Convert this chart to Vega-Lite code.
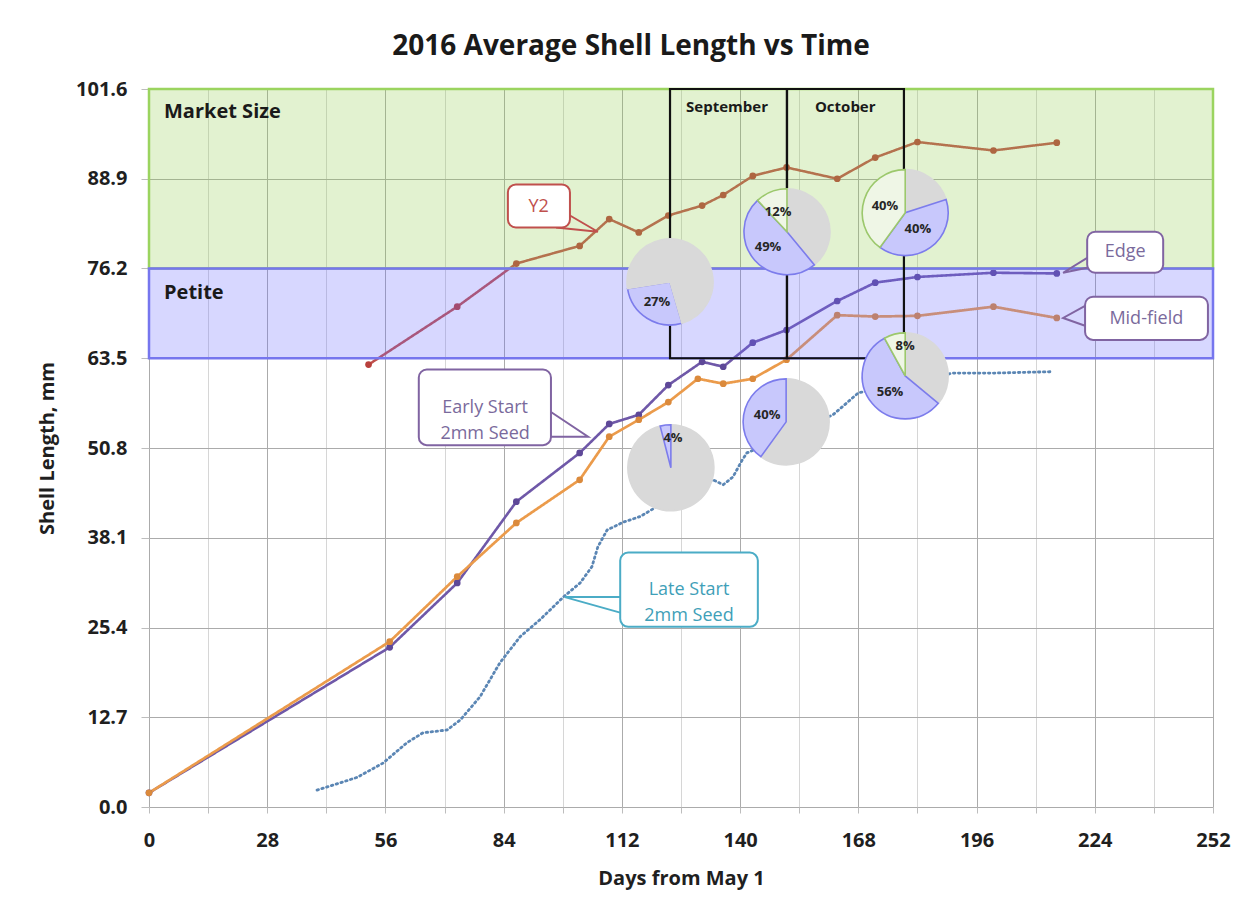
{
  "$schema": "https://vega.github.io/schema/vega-lite/v6.json",
  "width": 1064,
  "height": 718,
  "autosize": {"type": "none"},
  "padding": {"left": 149, "top": 89, "right": 30, "bottom": 102},
  "background": "white",
  "config": {"font": "Open Sans", "view": {"stroke": null}},
  "title": {"text": "2016 Average Shell Length vs Time", "fontSize": 28, "fontWeight": "bold", "color": "#1a1a1a", "anchor": "middle", "dx": -50, "offset": 18, "font": "Open Sans"},
  "datasets": {
    "series": [
      {"s": "Y2", "day": 52, "mm": 62.6}, {"s": "Y2", "day": 73, "mm": 70.8}, {"s": "Y2", "day": 87, "mm": 76.9}, {"s": "Y2", "day": 102, "mm": 79.4}, {"s": "Y2", "day": 109, "mm": 83.2}, {"s": "Y2", "day": 116, "mm": 81.3}, {"s": "Y2", "day": 123, "mm": 83.7}, {"s": "Y2", "day": 131, "mm": 85.1}, {"s": "Y2", "day": 136, "mm": 86.6}, {"s": "Y2", "day": 143, "mm": 89.3}, {"s": "Y2", "day": 151, "mm": 90.5}, {"s": "Y2", "day": 163, "mm": 88.9}, {"s": "Y2", "day": 172, "mm": 91.9}, {"s": "Y2", "day": 182, "mm": 94.1}, {"s": "Y2", "day": 200, "mm": 92.9}, {"s": "Y2", "day": 215, "mm": 94.0},
      {"s": "Edge", "day": 0, "mm": 2.0}, {"s": "Edge", "day": 57, "mm": 22.6}, {"s": "Edge", "day": 73, "mm": 31.7}, {"s": "Edge", "day": 87, "mm": 43.2}, {"s": "Edge", "day": 102, "mm": 50.1}, {"s": "Edge", "day": 109, "mm": 54.2}, {"s": "Edge", "day": 116, "mm": 55.5}, {"s": "Edge", "day": 123, "mm": 59.7}, {"s": "Edge", "day": 131, "mm": 63.0}, {"s": "Edge", "day": 136, "mm": 62.3}, {"s": "Edge", "day": 143, "mm": 65.7}, {"s": "Edge", "day": 151, "mm": 67.5}, {"s": "Edge", "day": 163, "mm": 71.6}, {"s": "Edge", "day": 172, "mm": 74.2}, {"s": "Edge", "day": 182, "mm": 75.0}, {"s": "Edge", "day": 200, "mm": 75.6}, {"s": "Edge", "day": 215, "mm": 75.5},
      {"s": "Mid-field", "day": 0, "mm": 2.0}, {"s": "Mid-field", "day": 57, "mm": 23.4}, {"s": "Mid-field", "day": 73, "mm": 32.6}, {"s": "Mid-field", "day": 87, "mm": 40.2}, {"s": "Mid-field", "day": 102, "mm": 46.3}, {"s": "Mid-field", "day": 109, "mm": 52.4}, {"s": "Mid-field", "day": 116, "mm": 54.8}, {"s": "Mid-field", "day": 123, "mm": 57.3}, {"s": "Mid-field", "day": 130, "mm": 60.6}, {"s": "Mid-field", "day": 136, "mm": 59.9}, {"s": "Mid-field", "day": 143, "mm": 60.6}, {"s": "Mid-field", "day": 151, "mm": 63.3}, {"s": "Mid-field", "day": 163, "mm": 69.6}, {"s": "Mid-field", "day": 172, "mm": 69.4}, {"s": "Mid-field", "day": 182, "mm": 69.5}, {"s": "Mid-field", "day": 200, "mm": 70.8}, {"s": "Mid-field", "day": 215, "mm": 69.2},
      {"s": "Late", "day": 39.8, "mm": 2.4}, {"s": "Late", "day": 43.6, "mm": 3.1}, {"s": "Late", "day": 49.3, "mm": 4.2}, {"s": "Late", "day": 55.4, "mm": 6.2}, {"s": "Late", "day": 61.1, "mm": 9.1}, {"s": "Late", "day": 64.9, "mm": 10.5}, {"s": "Late", "day": 70.6, "mm": 10.9}, {"s": "Late", "day": 73.7, "mm": 12.3}, {"s": "Late", "day": 78.4, "mm": 15.6}, {"s": "Late", "day": 83.1, "mm": 20.4}, {"s": "Late", "day": 87.9, "mm": 24.1}, {"s": "Late", "day": 92.6, "mm": 26.5}, {"s": "Late", "day": 98.1, "mm": 29.7}, {"s": "Late", "day": 102.1, "mm": 31.7}, {"s": "Late", "day": 104.9, "mm": 34.0}, {"s": "Late", "day": 106.3, "mm": 36.8}, {"s": "Late", "day": 108.5, "mm": 39.2}, {"s": "Late", "day": 112.3, "mm": 40.3}, {"s": "Late", "day": 116.3, "mm": 41.1}, {"s": "Late", "day": 120.3, "mm": 42.5}, {"s": "Late", "day": 133.6, "mm": 46.3}, {"s": "Late", "day": 136.0, "mm": 45.6}, {"s": "Late", "day": 138.3, "mm": 46.7}, {"s": "Late", "day": 140.5, "mm": 49.1}, {"s": "Late", "day": 141.6, "mm": 50.1}, {"s": "Late", "day": 162.0, "mm": 55.5}, {"s": "Late", "day": 165.3, "mm": 57.2}, {"s": "Late", "day": 168.0, "mm": 58.6}, {"s": "Late", "day": 190.4, "mm": 61.4}, {"s": "Late", "day": 200.0, "mm": 61.4}, {"s": "Late", "day": 214.1, "mm": 61.6}
    ],
    "bands": [
      {"name": "Market Size", "d0": 0, "d1": 252, "lo": 76.2, "hi": 101.6, "ly": 98.4},
      {"name": "Petite", "d0": 0, "d1": 252, "lo": 63.5, "hi": 76.2, "ly": 72.8}
    ],
    "months": [
      {"m": "September", "d0": 123.4, "d1": 151.1, "lo": 63.5, "hi": 101.6, "lx": 136.9, "ly": 99.0},
      {"m": "October", "d0": 151.1, "d1": 178.8, "lo": 63.5, "hi": 101.6, "lx": 164.9, "ly": 99.0}
    ],
    "pies": [
      {"pie": 1, "cx": 123.4, "cy": 74.3, "part": "blue", "p0": 45.5, "p1": 72.5},
      {"pie": 1, "cx": 123.4, "cy": 74.3, "part": "gray", "p0": 72.5, "p1": 145.5},
      {"pie": 2, "cx": 151.1, "cy": 81.4, "part": "gray", "p0": 0, "p1": 39},
      {"pie": 2, "cx": 151.1, "cy": 81.4, "part": "blue", "p0": 39, "p1": 88},
      {"pie": 2, "cx": 151.1, "cy": 81.4, "part": "green", "p0": 88, "p1": 100},
      {"pie": 3, "cx": 179.1, "cy": 84.1, "part": "gray", "p0": 0, "p1": 20},
      {"pie": 3, "cx": 179.1, "cy": 84.1, "part": "blue", "p0": 20, "p1": 60},
      {"pie": 3, "cx": 179.1, "cy": 84.1, "part": "green", "p0": 60, "p1": 100},
      {"pie": 4, "cx": 123.6, "cy": 48.0, "part": "gray", "p0": 0, "p1": 96},
      {"pie": 4, "cx": 123.6, "cy": 48.0, "part": "blue", "p0": 96, "p1": 100},
      {"pie": 5, "cx": 150.9, "cy": 54.5, "part": "gray", "p0": 0, "p1": 60},
      {"pie": 5, "cx": 150.9, "cy": 54.5, "part": "blue", "p0": 60, "p1": 100},
      {"pie": 6, "cx": 179.1, "cy": 61.0, "part": "gray", "p0": 0, "p1": 36},
      {"pie": 6, "cx": 179.1, "cy": 61.0, "part": "blue", "p0": 36, "p1": 92},
      {"pie": 6, "cx": 179.1, "cy": 61.0, "part": "green", "p0": 92, "p1": 100}
    ],
    "pielabels": [
      {"t": "27%", "lx": 120.3, "ly": 71.5},
      {"t": "12%", "lx": 149.0, "ly": 84.2},
      {"t": "49%", "lx": 146.6, "ly": 79.3},
      {"t": "40%", "lx": 174.3, "ly": 85.0},
      {"t": "40%", "lx": 182.1, "ly": 81.8},
      {"t": "4%", "lx": 124.1, "ly": 52.2},
      {"t": "40%", "lx": 146.4, "ly": 55.5},
      {"t": "8%", "lx": 179.1, "ly": 65.3},
      {"t": "56%", "lx": 175.5, "ly": 58.7}
    ],
    "callouts": [
      {"id": "Y2", "text": "Y2", "x0": 85.0, "x1": 99.7, "y0": 82.0, "y1": 88.1, "tx": 92.3, "ty": 84.9},
      {"id": "Edge", "text": "Edge", "x0": 222.2, "x1": 240.2, "y0": 75.6, "y1": 81.4, "tx": 231.2, "ty": 78.5},
      {"id": "Mid-field", "text": "Mid-field", "x0": 221.7, "x1": 250.8, "y0": 66.1, "y1": 72.2, "tx": 236.2, "ty": 69.1},
      {"id": "Early", "text": "Early Start\n2mm Seed", "x0": 63.9, "x1": 95.2, "y0": 51.2, "y1": 61.9, "tx": 79.6, "ty": 56.5},
      {"id": "Late", "text": "Late Start\n2mm Seed", "x0": 111.6, "x1": 144.2, "y0": 25.5, "y1": 36.0, "tx": 127.9, "ty": 30.7}
    ],
    "pointers": [
      {"id": "Y2", "o": 1, "day": 99.7, "mm": 83.7}, {"id": "Y2", "o": 2, "day": 106.3, "mm": 81.4}, {"id": "Y2", "o": 3, "day": 96.4, "mm": 82.0},
      {"id": "Edge", "o": 1, "day": 222.2, "mm": 77.7}, {"id": "Edge", "o": 2, "day": 216.5, "mm": 75.6}, {"id": "Edge", "o": 3, "day": 222.2, "mm": 76.3},
      {"id": "Mid-field", "o": 1, "day": 221.7, "mm": 70.9}, {"id": "Mid-field", "o": 2, "day": 216.5, "mm": 69.2}, {"id": "Mid-field", "o": 3, "day": 221.7, "mm": 68.1},
      {"id": "Early", "o": 1, "day": 95.2, "mm": 55.9}, {"id": "Early", "o": 2, "day": 104.0, "mm": 52.4}, {"id": "Early", "o": 3, "day": 95.2, "mm": 52.4},
      {"id": "Late", "o": 1, "day": 111.6, "mm": 29.7}, {"id": "Late", "o": 2, "day": 98.5, "mm": 29.7}, {"id": "Late", "o": 3, "day": 111.6, "mm": 27.5}
    ]
  },
  "layer": [
    {
      "data": {"name": "series"},
      "mark": {"type": "line", "strokeCap": "round"},
      "encoding": {
        "x": {"field": "day", "type": "quantitative", "scale": {"domain": [0, 252], "nice": false, "zero": false},
          "axis": {"title": "Days from May 1", "values": [0,7,14,21,28,35,42,49,56,63,70,77,84,91,98,105,112,119,126,133,140,147,154,161,168,175,182,189,196,203,210,217,224,231,238,245,252],
            "labelExpr": "datum.value % 28 === 0 ? datum.label : ''", "labelFlush": false, "labelOverlap": false,
            "grid": true, "gridColor": {"expr": "datum.value % 28 === 0 ? '#ababab' : '#d6d6d6'"}, "gridWidth": 1,
            "domain": false, "ticks": true, "tickSize": 6, "tickColor": "#bdbdbd",
            "labelFontSize": 20, "labelFontWeight": "bold", "labelColor": "#1f1f1f", "labelPadding": 17, "labelFont": "Open Sans",
            "titleFontSize": 20, "titleFontWeight": "bold", "titleColor": "#1f1f1f", "titlePadding": 18, "titleFont": "Open Sans"}},
        "y": {"field": "mm", "type": "quantitative", "scale": {"domain": [0, 101.6], "nice": false},
          "axis": {"title": "Shell Length, mm", "values": [0, 12.7, 25.4, 38.1, 50.8, 63.5, 76.2, 88.9, 101.6], "format": ".1f",
            "grid": true, "gridColor": "#ababab", "gridWidth": 1, "domain": false, "ticks": true, "tickSize": 8, "tickColor": "#bdbdbd",
            "labelFontSize": 20, "labelFontWeight": "bold", "labelColor": "#1f1f1f", "labelPadding": 14, "labelFont": "Open Sans",
            "titleFontSize": 20, "titleFontWeight": "bold", "titleColor": "#1f1f1f", "titlePadding": 18, "titleFont": "Open Sans"}},
        "color": {"field": "s", "type": "nominal", "legend": null,
          "scale": {"domain": ["Y2", "Edge", "Mid-field", "Late"], "range": ["#C0504D", "#6F58A8", "#EB9B4B", "#5B86B4"]}},
        "strokeDash": {"field": "s", "type": "nominal", "legend": null,
          "scale": {"domain": ["Y2", "Edge", "Mid-field", "Late"], "range": [[1, 0], [1, 0], [1, 0], [1.5, 3.5]]}},
        "strokeWidth": {"field": "s", "type": "nominal", "legend": null,
          "scale": {"domain": ["Y2", "Edge", "Mid-field", "Late"], "range": [2.5, 2.8, 2.8, 2.2]}}
      }
    },
    {
      "data": {"name": "series"},
      "transform": [{"filter": "datum.s !== 'Late'"}],
      "mark": {"type": "point", "filled": true, "size": 45, "opacity": 1},
      "encoding": {
        "x": {"field": "day", "type": "quantitative"},
        "y": {"field": "mm", "type": "quantitative"},
        "color": {"field": "s", "type": "nominal", "legend": null,
          "scale": {"domain": ["Y2", "Edge", "Mid-field"], "range": ["#B8403C", "#5E4898", "#DB8A3C"]}}
      }
    },
    {
      "data": {"name": "bands"},
      "mark": {"type": "rect", "fillOpacity": 0.27, "strokeWidth": 2.5, "strokeOpacity": 1},
      "encoding": {
        "x": {"field": "d0", "type": "quantitative"},
        "x2": {"field": "d1"},
        "y": {"field": "lo", "type": "quantitative"},
        "y2": {"field": "hi"},
        "fill": {"field": "name", "type": "nominal", "legend": null, "scale": {"domain": ["Market Size", "Petite"], "range": ["#92D050", "#6B6BFF"]}},
        "stroke": {"field": "name", "type": "nominal", "legend": null, "scale": {"domain": ["Market Size", "Petite"], "range": ["#9BD45F", "#7676EE"]}}
      }
    },
    {
      "data": {"name": "bands"},
      "mark": {"type": "text", "align": "left", "baseline": "middle", "fontSize": 20, "fontWeight": "bold", "color": "#1a1a1a", "dx": 15, "font": "Open Sans"},
      "encoding": {
        "x": {"field": "d0", "type": "quantitative"},
        "y": {"field": "ly", "type": "quantitative"},
        "text": {"field": "name"}
      }
    },
    {
      "data": {"name": "months"},
      "mark": {"type": "rect", "filled": false, "stroke": "#111111", "strokeWidth": 2.2},
      "encoding": {
        "x": {"field": "d0", "type": "quantitative"},
        "x2": {"field": "d1"},
        "y": {"field": "lo", "type": "quantitative"},
        "y2": {"field": "hi"}
      }
    },
    {
      "data": {"name": "months"},
      "mark": {"type": "text", "align": "center", "baseline": "middle", "fontSize": 15, "fontWeight": "bold", "color": "#1a1a1a", "font": "Open Sans"},
      "encoding": {
        "x": {"field": "lx", "type": "quantitative"},
        "y": {"field": "ly", "type": "quantitative"},
        "text": {"field": "m"}
      }
    },
    {
      "data": {"name": "pies"},
      "mark": {"type": "arc", "radius": 43, "strokeWidth": 1.6},
      "encoding": {
        "x": {"field": "cx", "type": "quantitative"},
        "y": {"field": "cy", "type": "quantitative"},
        "theta": {"field": "p0", "type": "quantitative", "stack": null, "scale": {"domain": [0, 100], "range": [0, 6.283185307179586], "zero": false, "nice": false}},
        "theta2": {"field": "p1"},
        "fill": {"field": "part", "type": "nominal", "legend": null, "scale": {"domain": ["gray", "blue", "green"], "range": ["#D9D9D9", "#C8C8FC", "#EFF6E6"]}},
        "stroke": {"field": "part", "type": "nominal", "legend": null, "scale": {"domain": ["gray", "blue", "green"], "range": ["#D9D9D9", "#7C7CEC", "#9CC86C"]}}
      }
    },
    {
      "data": {"name": "pielabels"},
      "mark": {"type": "text", "align": "center", "baseline": "middle", "fontSize": 13, "fontWeight": "bold", "color": "#262626", "font": "Open Sans"},
      "encoding": {
        "x": {"field": "lx", "type": "quantitative"},
        "y": {"field": "ly", "type": "quantitative"},
        "text": {"field": "t"}
      }
    },
    {
      "data": {"name": "pointers"},
      "mark": {"type": "line", "strokeWidth": 2, "strokeJoin": "miter"},
      "encoding": {
        "x": {"field": "day", "type": "quantitative"},
        "y": {"field": "mm", "type": "quantitative"},
        "order": {"field": "o"},
        "detail": {"field": "id"},
        "color": {"field": "id", "type": "nominal", "legend": null,
          "scale": {"domain": ["Y2", "Edge", "Mid-field", "Early", "Late"], "range": ["#C0504D", "#8064A2", "#8064A2", "#8064A2", "#4BACC6"]}}
      }
    },
    {
      "data": {"name": "callouts"},
      "mark": {"type": "rect", "fill": "white", "strokeWidth": 2, "cornerRadius": 8},
      "encoding": {
        "x": {"field": "x0", "type": "quantitative"},
        "x2": {"field": "x1"},
        "y": {"field": "y0", "type": "quantitative"},
        "y2": {"field": "y1"},
        "stroke": {"field": "id", "type": "nominal", "legend": null,
          "scale": {"domain": ["Y2", "Edge", "Mid-field", "Early", "Late"], "range": ["#C0504D", "#8064A2", "#8064A2", "#8064A2", "#4BACC6"]}}
      }
    },
    {
      "data": {"name": "callouts"},
      "mark": {"type": "text", "align": "center", "baseline": "middle", "fontSize": 18, "lineBreak": "\n", "lineHeight": 26, "font": "Open Sans"},
      "encoding": {
        "x": {"field": "tx", "type": "quantitative"},
        "y": {"field": "ty", "type": "quantitative"},
        "text": {"field": "text"},
        "color": {"field": "id", "type": "nominal", "legend": null,
          "scale": {"domain": ["Y2", "Edge", "Mid-field", "Early", "Late"], "range": ["#C0504D", "#7A6A9C", "#7A6A9C", "#7A6A9C", "#3FA0B8"]}}
      }
    }
  ],
  "resolve": {"scale": {"color": "independent", "fill": "independent", "stroke": "independent", "strokeDash": "independent", "strokeWidth": "independent"}}
}
